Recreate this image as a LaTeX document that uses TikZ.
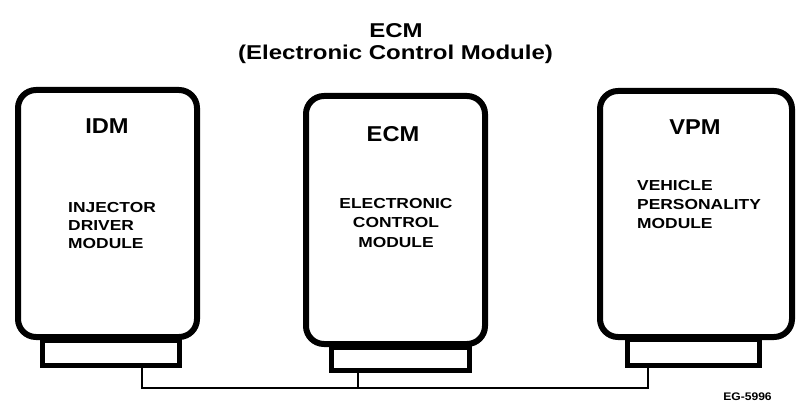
\documentclass[tikz,border=0pt]{standalone}
\usepackage{fontspec}
\setmainfont{Liberation Sans}
\newfontfamily\widefont[FakeStretch=1.2]{Liberation Sans}
\newfontfamily\midfont[FakeStretch=1.1]{Liberation Sans}
\begin{document}
\begin{tikzpicture}[x=1pt,y=-1pt,
  modbox/.style={draw, line width=6pt, rounded corners=18pt, fill=white, inner sep=0pt},
  plug/.style={draw, line width=5pt, fill=white, inner sep=0pt},
  wire/.style={line width=1.2pt},
  titletxt/.style={font=\widefont\bfseries\fontsize{20}{23}\selectfont, inner sep=0pt, anchor=base},
  bigtag/.style={font=\midfont\bfseries\fontsize{21.5}{24}\selectfont, inner sep=0pt, anchor=base},
  subtag/.style={font=\widefont\bfseries\fontsize{14.5}{#1}\selectfont, inner sep=0pt},
  codetxt/.style={font=\midfont\bfseries\fontsize{11}{13}\selectfont, inner sep=0pt, anchor=base}]
\useasboundingbox (0,0) rectangle (800,409);

% plugs
\node[plug, minimum width=137pt, minimum height=25pt] (pl) at (111,353) {};
\node[plug, minimum width=138pt, minimum height=23pt] (pm) at (400.5,359) {};
\node[plug, minimum width=132pt, minimum height=26pt] (pr) at (693.5,352.5) {};

% module bodies
\node[modbox, minimum width=179pt, minimum height=247pt] (idm) at (107.5,213.5) {};
\node[modbox, minimum width=179pt, minimum height=248pt] (ecm) at (395.5,220) {};
\node[modbox, minimum width=192pt, minimum height=246pt] (vpm) at (696,214) {};

% wiring
\coordinate (wl) at (142,388);
\coordinate (wm) at (358,388);
\coordinate (wr) at (648,388);
\draw[wire] (pl.south -| wl) -- (wl) -- (wr) -- (pr.south -| wr);
\draw[wire] (pm.south -| wm) -- (wm);

% title
\node[titletxt] (t1) at (396,38) {ECM};
\node[titletxt] (t2) at (395.5,60) {(Electronic Control Module)};

% labels
\node[bigtag] (idmt) at (107,133) {IDM};
\node[bigtag] (ecmt) at (393,142) {ECM};
\node[bigtag] (vpmt) at (695,135) {VPM};

\node[subtag=18, anchor=north west, align=left] (idms) at (68,202) {INJECTOR\\DRIVER\\MODULE};
\node[subtag=19.5, anchor=north, align=center] (ecms) at (396,198) {ELECTRONIC\\CONTROL\\MODULE};
\node[subtag=19, anchor=north west, align=left] (vpms) at (637,180) {VEHICLE\\PERSONALITY\\MODULE};

\node[codetxt] (code) at (747.5,400) {EG-5996};
\end{tikzpicture}
\end{document}
